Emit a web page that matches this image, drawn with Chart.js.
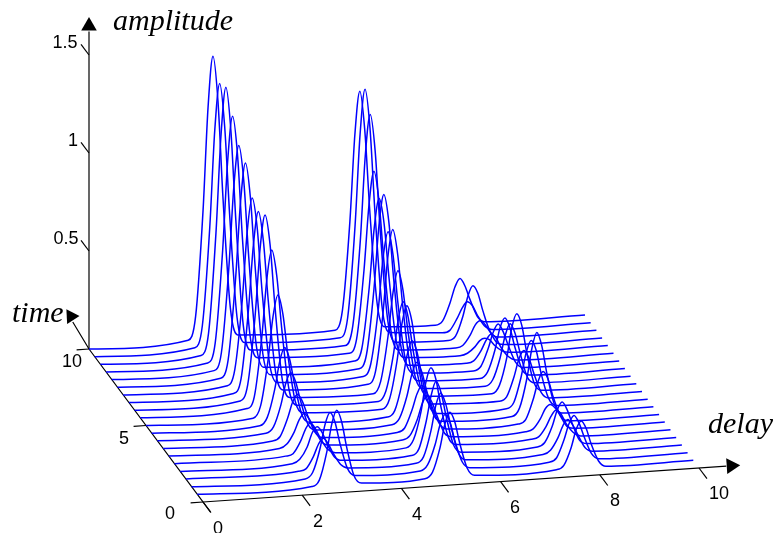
<!DOCTYPE html>
<html>
<head>
<meta charset="utf-8">
<title>amplitude / delay / time</title>
<script src="https://cdn.jsdelivr.net/npm/chart.js@4/dist/chart.umd.min.js"></script>
<style>
  html, body { margin: 0; padding: 0; background: #fff; overflow: hidden; }
  canvas { display: block; }
</style>
</head>
<body>
<canvas id="myChart" width="774" height="533"></canvas>
<script>
// one trace per time value, back to front
var tempos = [10, 9.5, 9, 8.5, 8, 7.5, 7, 6.5, 6, 5.5, 5, 4.5, 4, 3.5, 3, 2.5, 2, 1.5, 1, 0.5];

// delay where each pulse tops out, one per trace
var centroPulso1 = [2.50, 2.52, 2.53, 2.55, 2.56, 2.58, 2.60, 2.61, 2.63, 2.65, 2.66, 2.68, 2.69, 2.71, 2.73, 2.74, 2.76, 2.77, 2.79, 2.81];
var centroPulso2 = [5.46, 5.45, 5.44, 5.40, 5.39, 5.37, 5.34, 5.32, 5.31, 5.30, 5.26, 5.25, 5.23, 5.22, 5.21, 5.17, 5.16, 5.14, 5.11, 5.09];
var centroPulso3 = [7.48, 7.51, 7.51, 7.54, 7.52, 7.53, 7.56, 7.58, 7.57, 7.59, 7.62, 7.65, 7.65, 7.66, 7.69, 7.69, 7.70, 7.70, 7.71, 7.74];

// delay of each sample relative to the pulse centre
var desvios = [-0.5, -0.35, -0.2, -0.1, 0, 0.1, 0.2, 0.35, 0.5];

// amplitudes, row = trace, column = sample in desvios
var ampPulso1 = [
  [.01, .13, .67, 1.19, 1.45, 1.22, .73, .16, .02],
  [.01, .12, .62, 1.11, 1.35, 1.13, .68, .15, .02],
  [.01, .12, .63, 1.12, 1.37, 1.15, .69, .15, .02],
  [.01, .11, .58, 1.03, 1.26, 1.06, .63, .14, .02],
  [.01, .10, .53, .94, 1.15, .97, .58, .13, .01],
  [.01, .10, .51, .90, 1.10, .92, .55, .12, .01],
  [.01, .09, .44, .79, .96, .81, .48, .11, .01],
  [.01, .08, .43, .76, .93, .78, .47, .10, .01],
  [.01, .09, .44, .78, .95, .80, .48, .10, .01],
  [.01, .07, .37, .66, .81, .68, .41, .09, .01],
  [0, .06, .29, .51, .62, .52, .31, .07, .01],
  [0, .04, .18, .32, .39, .33, .20, .04, 0],
  [0, .03, .14, .25, .30, .25, .15, .03, 0],
  [0, .02, .11, .19, .23, .19, .12, .03, 0],
  [0, .02, .08, .14, .17, .14, .09, .02, 0],
  [0, .01, .07, .13, .16, .13, .08, .02, 0],
  [0, .02, .08, .15, .18, .15, .09, .02, 0],
  [0, .01, .07, .13, .16, .13, .08, .02, 0],
  [0, .03, .15, .27, .33, .28, .17, .04, 0],
  [0, .03, .17, .31, .38, .32, .19, .04, 0]
];
var ampPulso2 = [
  [.01, .11, .56, 1.00, 1.22, 1.02, .61, .13, .01],
  [.01, .11, .58, 1.04, 1.27, 1.07, .64, .14, .02],
  [.01, .11, .54, .97, 1.18, .99, .59, .13, .01],
  [.01, .08, .43, .76, .93, .78, .47, .10, .01],
  [.01, .07, .38, .68, .83, .70, .42, .09, .01],
  [.01, .08, .41, .73, .89, .75, .45, .10, .01],
  [.01, .07, .34, .61, .74, .62, .37, .08, .01],
  [.01, .07, .36, .65, .79, .66, .40, .09, .01],
  [0, .06, .29, .51, .62, .52, .31, .07, .01],
  [0, .05, .23, .41, .50, .42, .25, .06, .01],
  [0, .05, .24, .43, .52, .44, .26, .06, .01],
  [0, .03, .17, .31, .38, .32, .19, .04, 0],
  [0, .03, .14, .25, .31, .26, .16, .03, 0],
  [0, .02, .11, .19, .23, .19, .12, .03, 0],
  [0, .02, .10, .18, .22, .18, .11, .02, 0],
  [0, .04, .18, .33, .40, .34, .20, .04, 0],
  [0, .03, .17, .30, .37, .31, .19, .04, 0],
  [0, .03, .16, .29, .35, .29, .18, .04, 0],
  [0, .03, .13, .23, .28, .24, .14, .03, 0],
  [0, .03, .15, .27, .33, .28, .17, .04, 0]
];
var ampPulso3 = [
  [0, .02, .11, .19, .23, .19, .12, .03, 0],
  [0, .01, .07, .12, .15, .13, .08, .02, 0],
  [0, .02, .12, .22, .27, .23, .14, .03, 0],
  [0, .01, .06, .11, .13, .11, .07, .01, 0],
  [0, .01, .04, .07, .08, .07, .04, .01, 0],
  [0, .01, .06, .11, .14, .12, .07, .02, 0],
  [0, .02, .11, .19, .23, .19, .12, .03, 0],
  [0, .03, .14, .25, .30, .25, .15, .03, 0],
  [0, .03, .14, .25, .31, .26, .16, .03, 0],
  [0, .04, .18, .33, .40, .34, .20, .04, 0],
  [0, .02, .12, .21, .25, .21, .13, .03, 0],
  [0, .03, .16, .28, .34, .29, .17, .04, 0],
  [0, .04, .19, .34, .42, .35, .21, .05, 0],
  [0, .02, .12, .21, .26, .22, .13, .03, 0],
  [0, .01, .06, .11, .13, .11, .07, .01, 0],
  [0, .01, .06, .11, .14, .12, .07, .02, 0],
  [0, .02, .10, .18, .22, .18, .11, .02, 0],
  [0, .02, .08, .14, .17, .14, .09, .02, 0],
  [0, .02, .11, .19, .23, .19, .12, .03, 0],
  [0, .02, .11, .20, .24, .20, .12, .03, 0]
];

var delayInicio = 0;
var delayFim = 10;

var ticksAmp = [0.5, 1, 1.5];
var labelsAmp = ['0.5', '1', '1.5'];
var ticksDelay = [0, 2, 4, 6, 8, 10];
var labelsDelay = ['0', '2', '4', '6', '8', '10'];
var ticksTempo = [0, 5, 10];
var labelsTempo = ['0', '5', '10'];

// oblique projection of (delay, time, amplitude) on the flat chart axes
function px(d, t) {
    return 203 + 49.6 * d - 11.4 * t;
}
function py(d, t, a) {
    return 502 - 3.4 * d - 15.3 * t - 196 * (a || 0);
}
function ponto(d, t, a) {
    return { x: px(d, t), y: py(d, t, a) };
}

var datasets = [];

function linhaPreta(pontos) {
    datasets.push({
        data: pontos,
        showLine: true,
        borderColor: '#000',
        borderWidth: 1.2,
        pointRadius: 0
    });
}

function seta(p, angulo, raio) {
    datasets.push({
        data: [p],
        showLine: false,
        pointStyle: 'triangle',
        pointRotation: angulo,
        pointRadius: raio,
        pointBackgroundColor: '#000',
        pointBorderColor: '#000',
        pointBorderWidth: 0
    });
}

// traces
tempos.forEach(function (t, i) {
    var pontos = [ponto(delayInicio, t, 0)];
    [[centroPulso1, ampPulso1], [centroPulso2, ampPulso2], [centroPulso3, ampPulso3]].forEach(function (pulso) {
        desvios.forEach(function (dv, j) {
            pontos.push(ponto(pulso[0][i] + dv, t, pulso[1][i][j]));
        });
    });
    pontos.push(ponto(delayFim, t, 0));
    datasets.push({
        data: pontos,
        showLine: true,
        borderColor: '#0000ff',
        borderWidth: 1.5,
        pointRadius: 0,
        cubicInterpolationMode: 'monotone'
    });
});

// axes
linhaPreta([ponto(0, 10, 0), ponto(0, 10, 1.62)]);
linhaPreta([ponto(0, -0.65, 0), ponto(0, 10, 0), ponto(0.075, 11.75, 0)]);
linhaPreta([ponto(0, 0, 0), ponto(10.55, 0, 0)]);
ticksAmp.forEach(function (a) {
    linhaPreta([ponto(0, 10, a), ponto(0, 10.7, a)]);
});
ticksDelay.forEach(function (d) {
    linhaPreta([ponto(d, 0, 0), ponto(d, -0.7, 0)]);
});
ticksTempo.forEach(function (t) {
    linhaPreta([ponto(0, t, 0), ponto(-0.25, t, 0)]);
});
seta(ponto(0, 10, 1.648), 0, 9);
seta(ponto(0.12, 12.1, 0), -33, 8.5);
seta(ponto(10.65, 0, 0), 86, 9);

var pluginTextos = {
    id: 'textos',
    afterDraw: function (chart) {
        var ctx = chart.ctx;
        ctx.save();
        ctx.fillStyle = '#000';
        ctx.textAlign = 'center';
        ctx.textBaseline = 'middle';
        ctx.font = '18px "Liberation Sans"';
        var xAmp = [66, 73, 65], yAmp = [239, 141, 43];
        labelsAmp.forEach(function (s, i) { ctx.fillText(s, xAmp[i], yAmp[i]); });
        var xDelay = [218, 318, 417, 515, 615, 719], yDelay = [529, 522, 515, 508, 501, 494];
        labelsDelay.forEach(function (s, i) { ctx.fillText(s, xDelay[i], yDelay[i]); });
        var xTempo = [170, 124, 72], yTempo = [514, 439, 362];
        labelsTempo.forEach(function (s, i) { ctx.fillText(s, xTempo[i], yTempo[i]); });

        ctx.textAlign = 'left';
        ctx.textBaseline = 'alphabetic';
        ctx.font = 'italic 30px "Liberation Serif"';
        ctx.fillText('amplitude', 113, 30);
        ctx.fillText('time', 12, 322);
        ctx.fillText('delay', 708, 433);
        ctx.restore();
    }
};

new Chart(document.getElementById('myChart'), {
    type: 'scatter',
    data: { datasets: datasets },
    plugins: [pluginTextos],
    options: {
        responsive: false,
        animation: false,
        layout: { padding: 0, autoPadding: false },
        plugins: {
            legend: { display: false },
            tooltip: { enabled: false }
        },
        scales: {
            x: { type: 'linear', min: 0, max: 774, display: false },
            y: { type: 'linear', min: 0, max: 533, reverse: true, display: false }
        }
    }
});
</script>
</body>
</html>
